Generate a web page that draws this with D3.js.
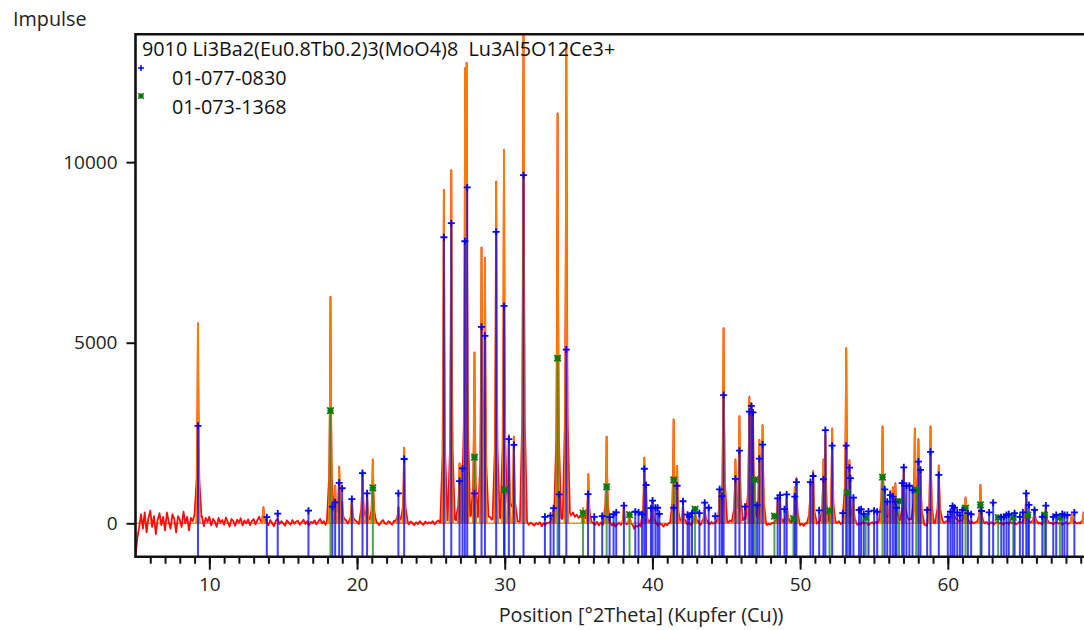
<!DOCTYPE html>
<html>
<head>
<meta charset="utf-8">
<script src="https://cdn.jsdelivr.net/npm/d3@7/dist/d3.min.js"></script>
<style>
body{margin:0;background:#fff}
svg{display:block;font-family:"Open Sans",sans-serif}
</style>
</head>
<body>
<div id="chart"></div>
<script>
// measured scan: peak positions (deg 2theta) and top counts
const peakPos = [9.23,13.66,18.20,18.52,18.79,18.99,19.65,20.37,20.68,21.07,22.80,23.19,
  25.88,26.38,26.94,27.14,27.32,27.42,27.95,28.43,28.66,29.42,29.95,30.28,30.62,31.27,
  33.31,33.58,34.17,35.30,35.66,36.90,38.07,38.45,39.45,39.57,40.01,41.44,41.67,42.07,
  42.89,43.54,44.55,44.82,45.62,45.89,46.56,46.70,46.81,47.24,47.46,48.48,48.64,49.09,
  49.64,49.75,50.70,50.88,51.58,51.71,52.17,53.12,53.34,53.61,55.58,55.73,56.10,56.28,
  56.45,57.02,57.77,58.01,58.15,58.83,59.39,60.35,61.20,62.21,65.31,65.87,66.64,68.40,69.20]
const peakCounts = [5540,450,6270,1040,1570,600,700,1430,800,1770,450,2090,
  9230,9780,1660,1520,12600,12750,4730,7630,7350,9460,10340,2440,2400,14000,
  420,11350,13290,420,1360,2400,520,300,1820,900,600,2880,1590,500,
  350,450,900,5400,1770,2970,3500,3320,3000,2310,2720,600,700,700,
  1000,1250,1150,1450,1770,2450,2630,4850,1750,600,2680,900,900,1000,
  1110,1550,2630,2330,1500,2680,1600,420,720,1060,800,400,450,250,300]

// scan background, one value every 0.125 deg from 5 to 70
const baseStart = 5, baseStep = 0.125
const scanBase = [
  -900,-400,-100,250,-150,300,-250,150,  350,-100,200,-300,100,280,-50,180,
  -200,300,50,-150,250,120,-250,200,  100,-100,320,0,180,-200,150,60,
  250,-50,180,100,200,-80,150,40,  180,-60,120,40,-100,150,20,90,
  -40,160,30,-90,120,60,-70,100,  20,140,-60,80,0,110,-50,60,
  120,-30,90,180,20,-60,130,40,  -50,90,10,-80,70,130,-20,60,
  0,-70,80,20,-40,90,-10,50,  70,-40,30,100,-20,60,-60,40,
  10,80,-30,50,120,0,60,-40,  30,90,20,60,150,80,40,110,
  60,20,90,-10,70,30,-30,80,  40,-20,60,100,10,-40,70,20,
  50,-30,80,10,-50,40,90,0,  -20,60,20,-40,70,30,100,-10,
  40,80,0,60,-30,50,10,-50,  30,-20,60,0,-40,50,-10,30,
  0,60,-30,40,80,20,110,60,  150,90,130,70,180,110,60,140,
  200,150,260,180,220,160,240,130,  190,110,230,170,150,210,120,160,
  180,100,150,210,130,90,160,120,  140,80,120,60,30,90,20,60,
  40,100,60,-10,40,-40,20,-20,  -60,10,-30,30,-80,0,-40,20,
  10,60,30,90,140,100,180,120,  200,260,340,280,220,300,180,240,
  150,200,100,60,120,20,-20,40,  0,-40,40,-60,20,-30,-80,10,
  -20,40,-60,0,-90,-30,20,-50,  -40,-110,-60,-130,-20,-100,-150,-70,
  -90,-30,-120,-60,-20,-80,10,-50,  30,-40,20,-70,0,-30,-90,-20,
  -50,10,-30,40,-10,20,-40,30,  60,0,40,-30,20,-50,10,50,
  -20,30,-40,10,50,-10,20,-30,  40,-10,30,60,-20,20,70,10,
  50,20,80,40,110,60,30,90,  130,80,160,100,140,200,120,80,
  100,60,30,70,-20,10,-50,-10,  -30,20,-10,40,-40,0,30,-20,
  10,50,-10,30,-30,-60,0,-40,  -50,-10,-70,10,-20,30,0,40,
  50,-10,30,70,10,40,-20,30,  50,0,-30,40,10,60,-20,20,
  30,70,100,40,60,-10,30,-40,  10,-30,40,-10,20,-50,0,30,
  -20,40,10,60,30,90,50,80,  120,70,140,100,160,110,80,140,
  180,120,150,90,130,70,110,60,  80,30,50,-20,-60,-100,-40,-80,
  -30,20,60,100,40,80,10,50,  70,30,100,140,80,120,50,90,
  60,20,80,40,-10,50,0,30,  50,-20,20,60,0,40,-30,10,
  30,-30,20,50,-10,30,-40,10,  20,-20,40,0,30,-30,10,50,
  10,60,20,40,-20,30,-10,20,  40,-10,20,-40,30,0,50,-20,
  20,-30,10,40,-10,20,-40,0,  30,-20,10,-40,20,40,-10,20,
  -20,30,0,40,-30,10,50,0,  10]

// reference pattern 01-077-0830 (blue)
const bluePos = [9.23,13.89,14.63,16.71,18.33,18.52,18.79,18.99,19.65,20.37,20.68,22.80,23.19,
  25.88,26.38,26.94,27.14,27.30,27.46,27.95,28.43,28.66,29.42,29.95,30.28,30.62,31.27,
  32.72,33.10,33.31,33.69,34.17,35.64,36.06,36.60,37.10,37.37,37.55,38.07,38.84,39.06,
  39.30,39.45,39.57,39.90,40.01,40.20,40.35,40.47,41.44,41.67,42.07,42.38,42.50,42.68,
  43.18,43.54,43.81,44.26,44.55,44.71,44.82,45.62,45.89,46.27,46.56,46.70,46.81,47.09,
  47.24,47.46,48.48,48.64,48.94,49.09,49.64,49.75,50.70,50.88,51.29,51.58,51.71,52.17,
  52.89,53.12,53.34,53.41,53.61,53.99,54.13,54.31,54.63,55.01,55.22,55.73,55.90,56.10,
  56.28,56.44,56.53,56.91,57.02,57.20,57.40,57.61,58.01,58.15,58.60,58.83,59.39,60.00,
  60.18,60.32,60.45,60.64,60.82,60.98,61.36,61.58,62.28,62.80,63.07,63.62,63.79,63.97,
  64.13,64.52,64.88,65.08,65.31,65.49,65.87,66.40,66.64,67.14,67.34,67.75,67.90,68.09,68.57]
const blueInt = [2700,170,270,350,460,580,1120,970,670,1390,830,830,1780,
  7920,8310,1170,1520,7810,9300,830,5440,5190,8070,6020,2330,2170,9640,
  180,210,420,800,4810,810,180,200,170,250,300,490,320,300,
  250,1510,1060,420,630,430,430,260,430,1040,610,240,180,280,
  280,570,430,200,940,750,3550,1230,2010,460,3090,3250,3070,500,
  1790,2180,690,780,390,800,740,1140,1140,1310,360,1220,2580,2150,
  280,2150,1540,1250,710,370,390,260,330,350,320,940,600,780,
  740,600,430,1110,1550,1040,1040,920,1710,1480,370,1980,1340,180,
  320,480,430,300,220,370,280,250,340,300,570,170,180,230,
  250,280,180,300,830,510,370,180,490,180,230,260,230,230,300]

// reference pattern 01-073-1368 (green)
const greenPos = [18.20,21.07,27.95,30.00,33.58,35.30,36.90,38.45,41.44,42.89,46.95,48.26,
  49.55,51.99,53.20,54.44,55.58,56.70,57.86,61.20,62.21,63.41,64.43,65.42,66.55,67.59]
const greenInt = [3120,980,1830,930,4570,280,1010,240,1200,390,1210,200,
  130,350,850,160,1280,610,920,420,510,160,160,230,230,160]

const xTicks = [10,20,30,40,50,60]
const yTicks = [0,5000,10000]
const title = "9010 Li3Ba2(Eu0.8Tb0.2)3(MoO4)8  Lu3Al5O12Ce3+"
const refNames = ["01-077-0830","01-073-1368"]

const width = 1084, height = 630
const svg = d3.select('#chart').append('svg').attr('width',width).attr('height',height)

const xScale = d3.scaleLinear().domain([5,70]).range([135.5,1095.5])
const yScale = d3.scaleLinear().domain([-925,13540]).range([556.7,34.3])
const plotL = xScale(5), plotB = yScale(-925), plotT = yScale(13540)

svg.append('clipPath').attr('id','plotclip').append('rect')
  .attr('x',plotL).attr('y',plotT).attr('width',width-plotL).attr('height',plotB-plotT)

const plot = svg.append('g').attr('clip-path','url(#plotclip)')

// background value at x
const baseAt = (t)=>{
  const f = (t-baseStart)/baseStep
  const i = Math.max(0,Math.min(scanBase.length-2,Math.floor(f)))
  const r = f-i
  return scanBase[i]*(1-r)+scanBase[i+1]*r
}
// peak outline as (offset, fraction) pairs
const redShape = [[0,1],[0.035,0.55],[0.09,0.2],[0.24,0]]
const orangeShape = [[0,1],[0.03,0.5],[0.07,0.12],[0.12,0]]
const shapeFrac = (shape,d)=>{
  for(let k=1;k<shape.length;k++){
    if(d<=shape[k][0]){
      const a=shape[k-1], b=shape[k]
      return a[1]+(b[1]-a[1])*(d-a[0])/(b[0]-a[0])
    }
  }
  return -1
}

// measured scan points
let scanX = d3.range(scanBase.length).map(i=>baseStart+i*baseStep)
peakPos.forEach(p=>redShape.forEach(s=>{ scanX.push(p-s[0]); scanX.push(p+s[0]) }))
scanX = Array.from(new Set(scanX.map(v=>+v.toFixed(4)))).sort((a,b)=>a-b)
const scanPts = scanX.map(t=>{
  let v = baseAt(t)
  peakPos.forEach((p,i)=>{
    const f = shapeFrac(redShape,Math.abs(t-p))
    if(f>0){
      const b = baseAt(p)
      v = Math.max(v, b+f*(peakCounts[i]-b))
    }
  })
  return [t,v]
})

const line = d3.line().x(d=>xScale(d[0])).y(d=>yScale(d[1]))

// calculated profile baseline
plot.append('path')
  .attr('d',line([[5,0],[70,0]]))
  .attr('fill','none').attr('stroke','#ff8c1a').attr('stroke-width',1.5)

plot.append('path')
  .attr('d',line(scanPts))
  .attr('fill','none').attr('stroke','#ff0a0a').attr('stroke-width',1.8)
  .attr('stroke-linejoin','round')

// calculated peaks on top
plot.selectAll('.calc').data(peakPos).enter().append('path')
  .attr('class','calc')
  .attr('d',(p,i)=>{
    const pts = []
    for(let k=orangeShape.length-1;k>=0;k--) pts.push([p-orangeShape[k][0], orangeShape[k][1]*peakCounts[i]])
    for(let k=1;k<orangeShape.length;k++) pts.push([p+orangeShape[k][0], orangeShape[k][1]*peakCounts[i]])
    return line(pts)
  })
  .attr('fill','none').attr('stroke','#ff7a00').attr('stroke-width',2)

// sticks
const drawSticks = (pos,vals,color,cls)=>{
  plot.selectAll('.'+cls).data(pos).enter().append('line')
    .attr('class',cls)
    .attr('x1',d=>xScale(d)).attr('x2',d=>xScale(d))
    .attr('y1',plotB).attr('y2',(d,i)=>yScale(vals[i]))
    .attr('stroke',color).attr('stroke-width',2).attr('stroke-opacity',0.75)
}
drawSticks(greenPos,greenInt,'#128a12','gstick')
drawSticks(bluePos,blueInt,'#0000ff','bstick')

const plusPath = (cx,cy,r)=>`M${cx-r},${cy}H${cx+r}M${cx},${cy-r}V${cy+r}`
const starPath = (cx,cy,r)=>`M${cx-r},${cy-r}L${cx+r},${cy+r}M${cx-r},${cy+r}L${cx+r},${cy-r}M${cx-r},${cy}H${cx+r}M${cx},${cy-r}V${cy+r}`

plot.selectAll('.gmark').data(greenPos).enter().append('path')
  .attr('class','gmark')
  .attr('d',(d,i)=>starPath(xScale(d),yScale(greenInt[i]),3.2))
  .attr('stroke','#0a780a').attr('stroke-width',1.8).attr('fill','none')
plot.selectAll('.bmark').data(bluePos).enter().append('path')
  .attr('class','bmark')
  .attr('d',(d,i)=>plusPath(xScale(d),yScale(blueInt[i]),3.5))
  .attr('stroke','#0000ff').attr('stroke-width',1.8).attr('fill','none')

// axes
const xAxisMinor = d3.axisBottom(xScale).tickValues(d3.range(6,70)).tickSize(7).tickFormat('')
const xAxis = d3.axisBottom(xScale).tickValues(xTicks).tickSize(13).tickPadding(8)
const yAxis = d3.axisLeft(yScale).tickValues(yTicks).tickSize(9).tickPadding(9).tickFormat(d3.format('d'))

const gxm = svg.append('g').attr('transform',`translate(0,${plotB})`).call(xAxisMinor)
const gx = svg.append('g').attr('transform',`translate(0,${plotB})`).call(xAxis)
const gy = svg.append('g').attr('transform',`translate(${plotL},0)`).call(yAxis)
;[gxm,gx,gy].forEach(g=>{
  g.select('.domain').remove()
  g.selectAll('line').attr('stroke','#111').attr('stroke-width',2)
  g.selectAll('text').attr('fill','#222').style('font-size','19px').style('font-family','"Open Sans",sans-serif')
})

// frame
svg.append('path')
  .attr('d',`M${width},${plotT}H${plotL}V${plotB}H${width}`)
  .attr('fill','none').attr('stroke','#111').attr('stroke-width',2.6)

svg.append('text').text('Impulse')
  .attr('x',13).attr('y',26).attr('fill','#222').style('font-size','19.8px')
svg.append('text').text('Position [°2Theta] (Kupfer (Cu))')
  .attr('x',641).attr('y',622).attr('text-anchor','middle').attr('fill','#222').style('font-size','19.8px')

// legend
const leg = svg.append('g')
leg.append('text').text(title.replace(/  /g,' \u00a0')).attr('x',142).attr('y',56).attr('fill','#111').style('font-size','19.8px')
leg.append('path').attr('d',plusPath(141,68,3)).attr('stroke','#0000ff').attr('stroke-width',1.5)
leg.append('text').text(refNames[0]).attr('x',172).attr('y',85).attr('fill','#111').style('font-size','19.8px')
leg.append('path').attr('d',starPath(141,96,2.8)).attr('stroke','#0a780a').attr('stroke-width',1.5)
leg.append('text').text(refNames[1]).attr('x',172).attr('y',114).attr('fill','#111').style('font-size','19.8px')
</script>
</body>
</html>
